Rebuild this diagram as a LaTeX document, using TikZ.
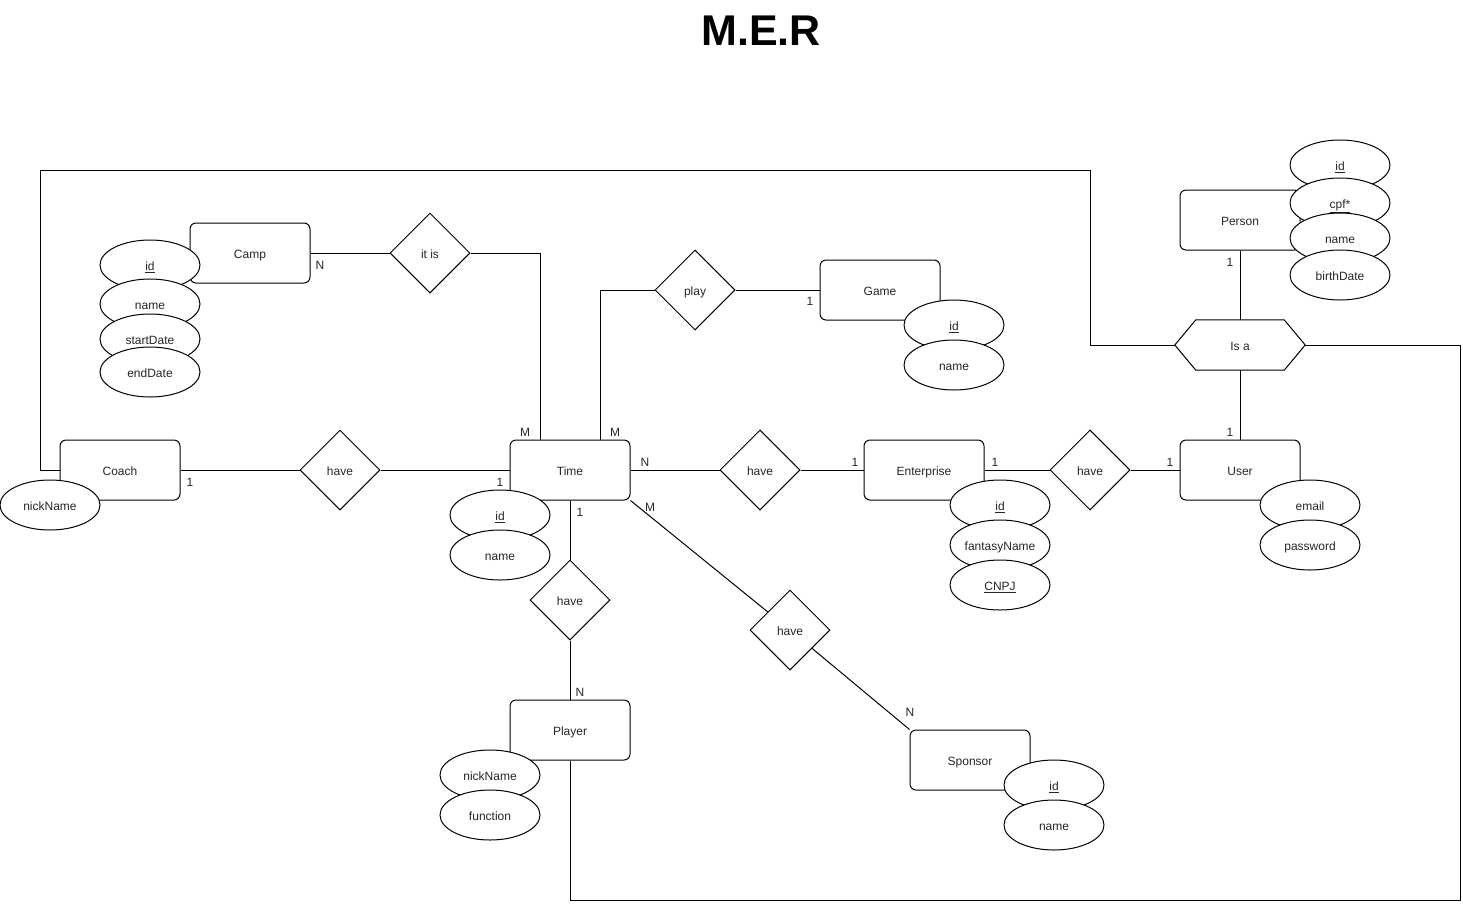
\documentclass[tikz,border=0pt]{standalone}
\usepackage{fontspec}
\setmainfont{Liberation Sans}
\usetikzlibrary{calc,backgrounds,shapes.geometric}
\begin{document}
\begin{tikzpicture}[x=1pt,y=-1pt,
  txt/.style={font=\fontsize{12}{14}\selectfont, text height=10.6pt, text depth=0pt, inner sep=0pt, text=black!85},
  entity/.style={txt, draw, line width=1pt, rounded corners=6pt, fill=white, minimum width=120pt, minimum height=60pt},
  rel/.style={txt, draw, line width=1pt, diamond, aspect=1, fill=white, minimum width=80pt, minimum height=80pt},
  attr/.style={txt, draw, line width=1pt, ellipse, fill=white, minimum width=100pt, minimum height=50pt},
  card/.style={txt},
  link/.style={line width=1pt}]
\useasboundingbox (0,0) rectangle (1463,903);

\node[font=\fontsize{43}{50}\selectfont\bfseries, inner sep=0pt] (title) at (761,31) {M.E.R};

% entities
\node[entity] (Camp) at (250,253) {Camp};
\node[entity] (Game) at (880,290) {Game};
\node[entity] (Person) at (1240,220) {Person};
\node[entity] (Coach) at (120,470) {Coach};
\node[entity] (Time) at (570,470) {Time};
\node[entity] (Enterprise) at (924,470) {Enterprise};
\node[entity] (User) at (1240,470) {User};
\node[entity] (Player) at (570,730) {Player};
\node[entity] (Sponsor) at (970,760) {Sponsor};

% relationships
\node[rel] (itis) at (430,253) {it is};
\node[rel] (play) at (695,290) {play};
\node[rel] (h1) at (340,470) {have};
\node[rel] (h2) at (760,470) {have};
\node[rel] (h3) at (1090,470) {have};
\node[rel] (h4) at (570,600) {have};
\node[rel] (h5) at (790,630) {have};

% Is a hexagon
\node[txt, minimum width=130pt, minimum height=50pt] (isa) at (1240,345) {};
\draw[line width=1pt, fill=white] (isa.west) -- ($(isa.north west)+(21,0)$) -- ($(isa.north east)+(-21,0)$) -- (isa.east) -- ($(isa.south east)+(-21,0)$) -- ($(isa.south west)+(21,0)$) -- cycle;
\node[txt] (isatext) at (isa) {Is a};

% attributes
\node[attr] (campId) at (150,265) {\underline{id}};
\node[attr] (campName) at (150,304) {name};
\node[attr] (campStart) at (150,339) {startDate};
\node[attr] (campEnd) at (150,372) {endDate};

\node[attr] (gameId) at (954,325) {\underline{id}};
\node[attr] (gameName) at (954,365) {name};

\node[attr] (personId) at (1340,165) {\underline{id}};
\node[attr] (personCpf) at (1340,203) {\underline{cpf*}};
\node[attr] (personName) at (1340,238) {name};
\node[attr] (personBirth) at (1340,275) {birthDate};

\node[attr] (coachNick) at (50,505) {nickName};

\node[attr] (timeId) at (500,515) {\underline{id}};
\node[attr] (timeName) at (500,555) {name};

\node[attr] (entId) at (1000,505) {\underline{id}};
\node[attr] (entFantasy) at (1000,545) {fantasyName};
\node[attr] (entCnpj) at (1000,585) {\underline{CNPJ}};

\node[attr] (userEmail) at (1310,505) {email};
\node[attr] (userPass) at (1310,545) {password};

\node[attr] (playerNick) at (490,775) {nickName};
\node[attr] (playerFunc) at (490,815) {function};

\node[attr] (sponsorId) at (1054,785) {\underline{id}};
\node[attr] (sponsorName) at (1054,825) {name};

% cardinalities
\node[card] (cCamp) at (320,264) {N};
\node[card] (cTimeA) at (525,431) {M};
\node[card] (cTimeB) at (615,431) {M};
\node[card] (cGame) at (810,300) {1};
\node[card] (cCoach) at (190,481) {1};
\node[card] (cTimeL) at (500,481) {1};
\node[card] (cTimeR) at (645,461) {N};
\node[card] (cEntL) at (855,461) {1};
\node[card] (cEntR) at (995,461) {1};
\node[card] (cUserL) at (1170,461) {1};
\node[card] (cPerson) at (1230,261) {1};
\node[card] (cUserT) at (1230,431) {1};
\node[card] (cTimeB1) at (580,511) {1};
\node[card] (cTimeM) at (650,506) {M};
\node[card] (cPlayer) at (580,691) {N};
\node[card] (cSponsor) at (910,711) {N};

% helper coordinates
\coordinate (tA) at ($(Time.north)+(-30,0)$);
\coordinate (tB) at ($(Time.north)+(30,0)$);
\coordinate (c1) at (1090,170);
\coordinate (c2) at (40,170);
\coordinate (c3) at (1460,900);

\begin{pgfonlayer}{background}
\draw[link] (Camp.east) -- (itis.west);
\draw[link] (itis.east) -| (tA);
\draw[link] (play.west) -| (tB);
\draw[link] (play.east) -- (Game.west);
\draw[link] (Coach.east) -- (h1.west);
\draw[link] (h1.east) -- (Time.west);
\draw[link] (Time.east) -- (h2.west);
\draw[link] (h2.east) -- (Enterprise.west);
\draw[link] (Enterprise.east) -- (h3.west);
\draw[link] (h3.east) -- (User.west);
\draw[link] (Time.south) -- (h4.north);
\draw[link] (h4.south) -- (Player.north);
\draw[link] (Time.south east) -- (h5);
\draw[link] (h5) -- (Sponsor.north west);
\draw[link] (Person.south) -- (isa.north);
\draw[link] (isa.south) -- (User.north);
\draw[link] (isa.west) -| (c1) -- (c2) |- (Coach.west);
\draw[link] (isa.east) -| (c3) -| (Player.south);
\end{pgfonlayer}
\end{tikzpicture}
\end{document}
